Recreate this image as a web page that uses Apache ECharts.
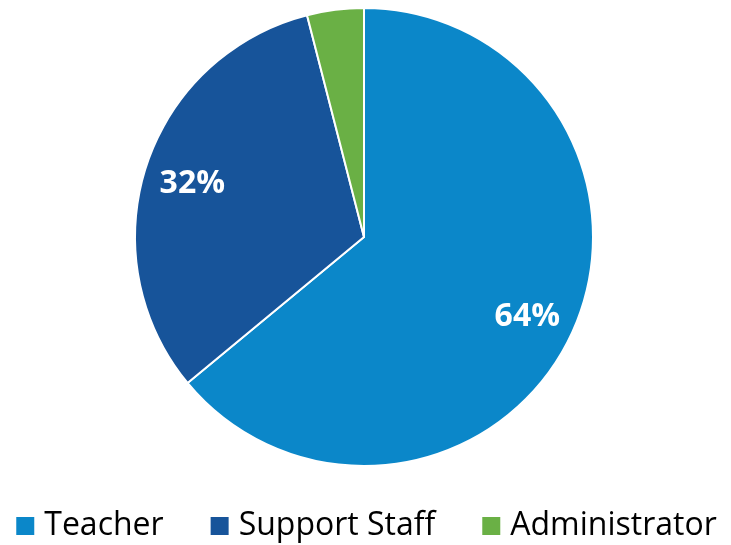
<!DOCTYPE html>
<html lang="en">
<head>
<meta charset="UTF-8">
<title>Staff pie</title>
<script src="https://cdn.jsdelivr.net/npm/echarts@6/dist/echarts.min.js"></script>
<style>
  html, body { margin: 0; padding: 0; background: #fff; }
  #main { width: 731px; height: 545px; }
</style>
</head>
<body>
<div id="main"></div>
<script>
// chart data
const categories = ['Teacher', 'Support Staff', 'Administrator'];
const shares = [64, 32, 4];
const showLabel = [true, true, false];
const colors = ['#0B87C9', '#17549A', '#6AB045'];

const chart = echarts.init(document.getElementById('main'));

const pieData = categories.map((name, i) => ({
  name: name,
  value: shares[i],
  itemStyle: { color: colors[i] }
}));

// transparent ring only used to put labels further out than r/2
const labelData = categories.map((name, i) => ({
  name: name,
  value: shares[i],
  label: { show: showLabel[i] }
}));

const option = {
  animation: false,
  legend: {
    data: categories.map((name, i) => ({ name: name, itemStyle: { color: colors[i] } })),
    left: 'center',
    top: 505,
    icon: 'rect',
    itemWidth: 20,
    itemHeight: 20,
    itemGap: 45,
    textStyle: {
      fontFamily: 'Open Sans',
      fontSize: 32,
      color: '#000',
      padding: [0, 0, 0, 4]
    }
  },
  series: [
    {
      type: 'pie',
      center: [364, 237],
      radius: 229,
      startAngle: 90,
      clockwise: true,
      data: pieData,
      label: { show: false },
      labelLine: { show: false },
      itemStyle: { borderColor: '#fff', borderWidth: 2 },
      emphasis: { disabled: true }
    },
    {
      type: 'pie',
      center: [364, 237],
      radius: [126, 229],
      startAngle: 90,
      clockwise: true,
      silent: true,
      data: labelData,
      itemStyle: { color: 'rgba(0,0,0,0)' },
      label: {
        position: 'inside',
        formatter: '{c}%',
        color: '#fff',
        fontFamily: 'Open Sans',
        fontWeight: 'bold',
        fontSize: 32,
        offset: [0, 3]
      },
      labelLine: { show: false },
      emphasis: { disabled: true }
    }
  ]
};

chart.setOption(option);
</script>
</body>
</html>
